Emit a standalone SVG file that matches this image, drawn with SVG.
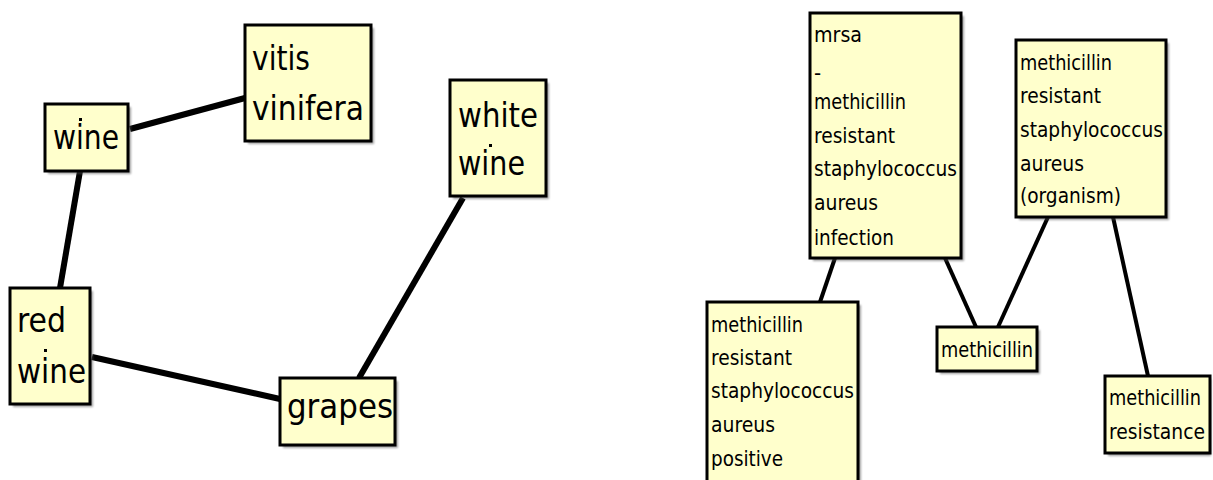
<svg xmlns="http://www.w3.org/2000/svg" width="1213" height="480" viewBox="0 0 1213 480">
<defs>
<style>
.box{fill:#ffffcc;stroke:#000;stroke-width:3}
.sh{fill:#555;opacity:0.55}
.edge{stroke:#000;fill:none;stroke-linecap:butt}
.big{stroke-width:6}
.small{stroke-width:4}
text{font-family:"DejaVu Sans Condensed","DejaVu Sans",sans-serif;fill:#000}
.tl{font-size:34px}
.tr{font-size:22px}
</style>
<filter id="blur" x="-10%" y="-10%" width="130%" height="130%"><feGaussianBlur stdDeviation="1.2"/></filter>
</defs>
<rect width="1213" height="480" fill="#fff"/>
<g id="connectors">
<line class="edge big" x1="130" y1="129" x2="245" y2="98"/>
<line class="edge big" x1="80" y1="171" x2="60" y2="288"/>
<line class="edge big" x1="92" y1="357" x2="280" y2="399"/>
<line class="edge big" x1="359" y1="378" x2="463" y2="198"/>
<line class="edge small" x1="835" y1="258" x2="820" y2="302"/>
<line class="edge small" x1="945" y1="258" x2="976" y2="327"/>
<line class="edge small" x1="1048" y1="217" x2="998" y2="327"/>
<line class="edge small" x1="1113" y1="217" x2="1148" y2="376"/>
</g>
<g id="node-wine">
<rect class="sh" x="48" y="107" width="83" height="67" filter="url(#blur)"/>
<rect class="box" x="45" y="104" width="83" height="67"/>
<rect x="79" y="118" width="3" height="3" fill="#000"/>
<text class="tl" x="53" y="149" textLength="66" lengthAdjust="spacingAndGlyphs">wine</text>
</g>
<g id="node-vitis">
<rect class="sh" x="248" y="28" width="126" height="116" filter="url(#blur)"/>
<rect class="box" x="245" y="25" width="126" height="116"/>
<text class="tl" x="252" y="70" textLength="58" lengthAdjust="spacingAndGlyphs">vitis</text>
<text class="tl" x="252" y="120" textLength="112" lengthAdjust="spacingAndGlyphs">vinifera</text>
</g>
<g id="node-white-wine">
<rect class="sh" x="453" y="83" width="96" height="116" filter="url(#blur)"/>
<rect class="box" x="450" y="80" width="96" height="116"/>
<text class="tl" x="458" y="127" textLength="80" lengthAdjust="spacingAndGlyphs">white</text>
<rect x="489" y="144" width="3" height="3" fill="#000"/>
<text class="tl" x="458" y="175" textLength="67" lengthAdjust="spacingAndGlyphs">wine</text>
</g>
<g id="node-red-wine">
<rect class="sh" x="13" y="291" width="80" height="116" filter="url(#blur)"/>
<rect class="box" x="10" y="288" width="80" height="116"/>
<text class="tl" x="17" y="332" textLength="49" lengthAdjust="spacingAndGlyphs">red</text>
<rect x="44" y="349" width="3" height="3" fill="#000"/>
<text class="tl" x="17" y="383" textLength="69" lengthAdjust="spacingAndGlyphs">wine</text>
</g>
<g id="node-grapes">
<rect class="sh" x="283" y="381" width="115" height="67" filter="url(#blur)"/>
<rect class="box" x="280" y="378" width="115" height="67"/>
<text class="tl" x="287" y="418" textLength="106" lengthAdjust="spacingAndGlyphs">grapes</text>
</g>
<g id="node-mrsa">
<rect class="sh" x="813" y="16" width="151" height="245" filter="url(#blur)"/>
<rect class="box" x="810" y="13" width="151" height="245"/>
<text class="tr" x="814" y="42" textLength="48" lengthAdjust="spacingAndGlyphs">mrsa</text>
<text class="tr" x="814" y="80">-</text>
<text class="tr" x="814" y="109" textLength="92" lengthAdjust="spacingAndGlyphs">methicillin</text>
<text class="tr" x="814" y="143" textLength="81" lengthAdjust="spacingAndGlyphs">resistant</text>
<text class="tr" x="814" y="176" textLength="143" lengthAdjust="spacingAndGlyphs">staphylococcus</text>
<text class="tr" x="814" y="210" textLength="64" lengthAdjust="spacingAndGlyphs">aureus</text>
<text class="tr" x="814" y="245" textLength="80" lengthAdjust="spacingAndGlyphs">infection</text>
</g>
<g id="node-organism">
<rect class="sh" x="1019" y="43" width="150" height="177" filter="url(#blur)"/>
<rect class="box" x="1016" y="40" width="150" height="177"/>
<text class="tr" x="1020" y="70" textLength="92" lengthAdjust="spacingAndGlyphs">methicillin</text>
<text class="tr" x="1020" y="103" textLength="81" lengthAdjust="spacingAndGlyphs">resistant</text>
<text class="tr" x="1020" y="137" textLength="143" lengthAdjust="spacingAndGlyphs">staphylococcus</text>
<text class="tr" x="1020" y="171" textLength="64" lengthAdjust="spacingAndGlyphs">aureus</text>
<text class="tr" x="1020" y="203" textLength="101" lengthAdjust="spacingAndGlyphs">(organism)</text>
</g>
<g id="node-positive">
<rect class="sh" x="710" y="305" width="151" height="180" filter="url(#blur)"/>
<rect class="box" x="707" y="302" width="151" height="180"/>
<text class="tr" x="711" y="332" textLength="92" lengthAdjust="spacingAndGlyphs">methicillin</text>
<text class="tr" x="711" y="365" textLength="81" lengthAdjust="spacingAndGlyphs">resistant</text>
<text class="tr" x="711" y="398" textLength="143" lengthAdjust="spacingAndGlyphs">staphylococcus</text>
<text class="tr" x="711" y="432" textLength="64" lengthAdjust="spacingAndGlyphs">aureus</text>
<text class="tr" x="711" y="466" textLength="72" lengthAdjust="spacingAndGlyphs">positive</text>
</g>
<g id="node-methicillin">
<rect class="sh" x="940" y="330" width="100" height="44" filter="url(#blur)"/>
<rect class="box" x="937" y="327" width="100" height="44"/>
<text class="tr" x="941" y="357" textLength="92" lengthAdjust="spacingAndGlyphs">methicillin</text>
</g>
<g id="node-resistance">
<rect class="sh" x="1108" y="379" width="103" height="77" filter="url(#blur)"/>
<rect class="box" x="1105" y="376" width="105" height="77"/>
<text class="tr" x="1109" y="405" textLength="92" lengthAdjust="spacingAndGlyphs">methicillin</text>
<text class="tr" x="1109" y="439" textLength="96" lengthAdjust="spacingAndGlyphs">resistance</text>
</g>
</svg>
